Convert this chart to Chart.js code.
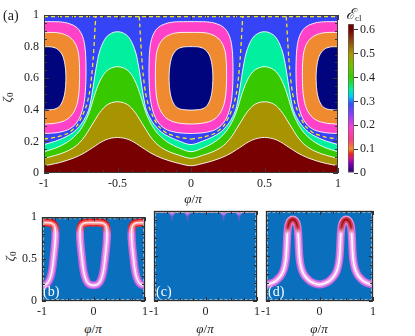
<!DOCTYPE html>
<html>
<head>
<meta charset="utf-8">
<script src="https://cdn.jsdelivr.net/npm/chart.js@4.4.1/dist/chart.umd.min.js"></script>
<style>
  body { margin: 0; background: #fff; }
  #fig { position: relative; width: 415px; height: 336px; overflow: hidden;
         font-family: 'Liberation Serif', 'DejaVu Serif', serif; color: #222; }
  canvas { position: absolute; }
  .lbl { position: absolute; white-space: nowrap; line-height: 1; font-size: 13px; }
  .lbl sub { font-size: 9px; vertical-align: -2px; }
  .rot { transform: rotate(-90deg); transform-origin: center; }
  .ttl { width: 40px; text-align: center; }
  .pan { color: #fff; font-size: 14px; }
</style>
</head>
<body>
<div id="fig">
  <canvas id="chartA" width="345" height="192" style="left:0;top:0;width:345px;height:192px"></canvas>
  <canvas id="chartBar" width="85" height="192" style="left:330px;top:0;width:85px;height:192px"></canvas>
  <canvas id="chartB" width="155" height="115" style="left:0;top:205px;width:155px;height:115px"></canvas>
  <canvas id="chartC" width="125" height="115" style="left:140px;top:205px;width:125px;height:115px"></canvas>
  <canvas id="chartD" width="140" height="115" style="left:250px;top:205px;width:140px;height:115px"></canvas>

  <div class="lbl" style="left:3px;top:9px;font-size:14px">(a)</div>
  <div class="lbl rot" style="left:3px;top:90px"><i>ζ</i><sub>0</sub></div>
  <div class="lbl ttl" style="left:173px;top:192px"><i>φ</i>/<i>π</i></div>
  <div class="lbl" style="left:346px;top:7px;font-size:15px"><i>ℰ</i><sub>cl</sub></div>

  <div class="lbl rot" style="left:6px;top:249px"><i>ζ</i><sub>0</sub></div>
  <div class="lbl ttl" style="left:73px;top:322px"><i>φ</i>/<i>π</i></div>
  <div class="lbl ttl" style="left:185px;top:322px"><i>φ</i>/<i>π</i></div>
  <div class="lbl ttl" style="left:299px;top:322px"><i>φ</i>/<i>π</i></div>
  <div class="lbl pan" style="left:43px;top:285px">(b)</div>
  <div class="lbl pan" style="left:156px;top:285px">(c)</div>
  <div class="lbl pan" style="left:268px;top:285px">(d)</div>
</div>
<script>
// ---------------- panel (a) ----------------
const phiTicksA = [-1, -0.5, 0, 0.5, 1];
const zetaTicksA = [0, 0.2, 0.4, 0.6, 0.8, 1];
const phiMinorA = [-1, -0.9, -0.8, -0.7, -0.6, -0.5, -0.4, -0.3, -0.2, -0.1, 0, 0.1, 0.2, 0.3, 0.4, 0.5, 0.6, 0.7, 0.8, 0.9, 1];
const zetaMinorA = [0, 0.05, 0.1, 0.15, 0.2, 0.25, 0.3, 0.35, 0.4, 0.45, 0.5, 0.55, 0.6, 0.65, 0.7, 0.75, 0.8, 0.85, 0.9, 0.95, 1];

// closed islands centred on phi = -1, 0, 1 (offset in phi, zeta)
const islandCentres = [-1, 0, 1];
const pinkDphi = [0, 0.10, 0.15, 0.20, 0.235, 0.26, 0.275, 0.283, 0.286, 0.284, 0.277, 0.262, 0.24, 0.205, 0.16, 0.10, 0.05, 0,
  -0.05, -0.10, -0.16, -0.205, -0.24, -0.262, -0.277, -0.284, -0.286, -0.283, -0.275, -0.26, -0.235, -0.20, -0.15, -0.10, 0];
const pinkZeta = [0.958, 0.957, 0.951, 0.935, 0.91, 0.87, 0.82, 0.75, 0.65, 0.56, 0.47, 0.40, 0.345, 0.30, 0.272, 0.257, 0.252, 0.25,
  0.252, 0.257, 0.272, 0.30, 0.345, 0.40, 0.47, 0.56, 0.65, 0.75, 0.82, 0.87, 0.91, 0.935, 0.951, 0.957, 0.958];
const orangeDphi = [0, 0.08, 0.125, 0.165, 0.198, 0.22, 0.234, 0.241, 0.242, 0.238, 0.226, 0.205, 0.172, 0.13, 0.07, 0,
  -0.07, -0.13, -0.172, -0.205, -0.226, -0.238, -0.242, -0.241, -0.234, -0.22, -0.198, -0.165, -0.125, -0.08, 0];
const orangeZeta = [0.89, 0.889, 0.882, 0.866, 0.84, 0.805, 0.76, 0.69, 0.59, 0.51, 0.44, 0.39, 0.35, 0.327, 0.314, 0.31,
  0.314, 0.327, 0.35, 0.39, 0.44, 0.51, 0.59, 0.69, 0.76, 0.805, 0.84, 0.866, 0.882, 0.889, 0.89];
const navyDphi = [0, 0.05, 0.085, 0.11, 0.128, 0.14, 0.147, 0.149, 0.146, 0.138, 0.124, 0.103, 0.075, 0.04, 0,
  -0.04, -0.075, -0.103, -0.124, -0.138, -0.146, -0.149, -0.147, -0.14, -0.128, -0.11, -0.085, -0.05, 0];
const navyZeta = [0.80, 0.798, 0.788, 0.768, 0.74, 0.70, 0.65, 0.60, 0.54, 0.49, 0.45, 0.42, 0.405, 0.40, 0.398,
  0.40, 0.405, 0.42, 0.45, 0.49, 0.54, 0.60, 0.65, 0.70, 0.74, 0.768, 0.788, 0.798, 0.80];

// bands peaking at phi = -0.5, 0.5 (distance from peak, zeta of upper edge)
const humpCentres = [-0.5, 0.5];
const humpDist = [0, 0.04, 0.08, 0.11, 0.13, 0.15, 0.17, 0.19, 0.22, 0.26, 0.3, 0.35, 0.42, 0.5];
const aquaZeta  = [0.894, 0.885, 0.855, 0.80, 0.74, 0.64, 0.52, 0.42, 0.35, 0.295, 0.258, 0.23, 0.202, 0.18];
const greenZeta = [0.673, 0.665, 0.64, 0.60, 0.56, 0.51, 0.45, 0.39, 0.325, 0.265, 0.225, 0.19, 0.158, 0.135];
const oliveZeta = [0.451, 0.445, 0.425, 0.395, 0.37, 0.34, 0.31, 0.28, 0.235, 0.19, 0.16, 0.135, 0.112, 0.093];
const redZeta   = [0.225, 0.221, 0.21, 0.196, 0.185, 0.172, 0.16, 0.148, 0.13, 0.11, 0.094, 0.078, 0.06, 0.046];

// yellow dashed contour
const dashDist = [0.148, 0.152, 0.158, 0.165, 0.175, 0.19, 0.21, 0.24, 0.28, 0.34, 0.42, 0.5];
const dashZeta = [0.99, 0.93, 0.83, 0.73, 0.62, 0.51, 0.43, 0.36, 0.295, 0.25, 0.226, 0.215];
const topDashPhi = [-1, 1];
const topDashZeta = [0.99, 0.99];

// colour bar
const levelTicks = [0, 0.1, 0.2, 0.3, 0.4, 0.5, 0.6];
const levelMax = 0.625;
const barLevels = [0, 0.04, 0.06, 0.08, 0.1, 0.14, 0.19, 0.25, 0.29, 0.32, 0.35, 0.40, 0.45, 0.5, 0.55, 0.6, 0.625];
const barColours = ['#1c0070', '#8000b8', '#d0108c', '#f02020', '#f08c24', '#ff3c80', '#ff40d0', '#8040ff', '#3050ff',
  '#00c8ff', '#00f0a0', '#30d000', '#70c000', '#a89800', '#904c10', '#780000', '#700000'];

// ---------------- panels (b) (c) (d) ----------------
const phiTicksS = [-1, 0, 1];
const zetaTicksB = [0, 0.5, 1];
const phiMinorS = [-1, -0.75, -0.5, -0.25, 0, 0.25, 0.5, 0.75, 1];
const zetaMinorS = [0, 0.1, 0.2, 0.3, 0.4, 0.5, 0.6, 0.7, 0.8, 0.9, 1];

// (b) closed loops centred on phi = -1, 0, 1
const loopCentresB = [-1, 0, 1];
const loopDphiB = [0, 0.12, 0.19, 0.235, 0.255, 0.262, 0.255, 0.24, 0.222, 0.203, 0.18, 0.15, 0.11, 0.06, 0,
  -0.06, -0.11, -0.15, -0.18, -0.203, -0.222, -0.24, -0.255, -0.262, -0.255, -0.235, -0.19, -0.12, 0];
const loopZetaB = [0.935, 0.935, 0.928, 0.905, 0.87, 0.80, 0.70, 0.60, 0.50, 0.40, 0.32, 0.26, 0.215, 0.193, 0.187,
  0.193, 0.215, 0.26, 0.32, 0.40, 0.50, 0.60, 0.70, 0.80, 0.87, 0.905, 0.928, 0.935, 0.935];

// (c) small dips under the top edge
const dripCentresC = [-0.65, -0.35, 0.35, 0.65];
const dripDistC = [0.1, 0.06, 0.03, 0.012, 0];
const dripZetaC = [0.985, 0.975, 0.955, 0.925, 0.885];
const edgeZetaC = 0.985;
const edgePhiC = [-1, 1];

// (d) arches peaking at phi = -0.5, 0.5
const archCentresD = [-0.5, 0.5];
const archDistD = [0, 0.04, 0.07, 0.09, 0.1, 0.108, 0.115, 0.125, 0.14, 0.165, 0.2, 0.25, 0.32, 0.4, 0.5];
const archZetaD = [0.905, 0.895, 0.865, 0.82, 0.76, 0.68, 0.58, 0.49, 0.42, 0.355, 0.305, 0.262, 0.222, 0.197, 0.182];

// ---------------- helpers ----------------
Chart.defaults.font.family = "'Liberation Serif', 'DejaVu Serif', serif";
Chart.defaults.font.size = 12;
Chart.defaults.color = '#222';

function islandPoints(c, dphi, zeta) {
  return dphi.map((d, i) => ({ x: c + d, y: zeta[i] }));
}

// mirror a peak profile around each centre to get one line across the axis
function peakLine(centres, dist, zeta) {
  const pts = [];
  const last = dist.length - 1;
  centres.forEach((c, k) => {
    for (let i = last; i >= 0; i--) {
      if (k > 0 && i === last) continue;
      pts.push({ x: c - dist[i], y: zeta[i] });
    }
    for (let i = 1; i <= last; i++) pts.push({ x: c + dist[i], y: zeta[i] });
  });
  return pts;
}

function dashLine(centres, dist, zeta) {
  const pts = [];
  centres.forEach(c => {
    for (let i = dist.length - 1; i >= 0; i--) pts.push({ x: c - dist[i], y: zeta[i] });
    pts.push({ x: c, y: null });
    for (let i = 0; i < dist.length; i++) pts.push({ x: c + dist[i], y: zeta[i] });
    pts.push({ x: c + 0.5, y: null });
  });
  return pts;
}

function dripLine(centres, dist, zeta, edge) {
  const pts = [{ x: -1, y: edge }];
  centres.forEach(c => {
    for (let i = 0; i < dist.length; i++) pts.push({ x: c - dist[i], y: zeta[i] });
    for (let i = dist.length - 2; i >= 0; i--) pts.push({ x: c + dist[i], y: zeta[i] });
  });
  pts.push({ x: 1, y: edge });
  return pts;
}

// vertical gradient given as [zeta, colour] pairs
function zetaGradient(chart, stops, fallback) {
  const a = chart.chartArea;
  const y = chart.scales.y;
  if (!a || !y) return fallback;
  const y1 = y.getPixelForValue(1), y0 = y.getPixelForValue(0);
  const g = chart.ctx.createLinearGradient(0, y1, 0, y0);
  stops.forEach(([z, c]) => g.addColorStop(Math.min(1, Math.max(0, 1 - z)), c));
  return g;
}

function fixedTicks(values) {
  return scale => { scale.ticks = values.map(v => ({ value: v })); };
}

function linearAxis(min, max, values, size, isX, show) {
  return {
    type: 'linear', min, max, display: show,
    afterBuildTicks: fixedTicks(values),
    afterFit: s => { if (isX) s.height = size; else s.width = size; },
    grid: { display: false, drawTicks: false },
    border: { display: false },
    ticks: { autoSkip: false, maxRotation: 0, padding: isX ? 4 : 5, callback: v => String(v) }
  };
}

// background, inward ticks and frame
const panelFrame = {
  id: 'panelFrame',
  beforeDatasetsDraw(chart, args, opts) {
    const { ctx, chartArea: a } = chart;
    ctx.save();
    ctx.fillStyle = opts.bg;
    ctx.fillRect(a.left, a.top, a.width, a.height);
    ctx.restore();
  },
  afterDatasetsDraw(chart, args, opts) {
    const { ctx, chartArea: a, scales: { x, y } } = chart;
    ctx.save();
    if (opts.edge) {
      ctx.strokeStyle = opts.edge;
      ctx.lineWidth = 1;
      ctx.setLineDash([3, 2]);
      ctx.strokeRect(a.left + 1.5, a.top + 1.5, a.width - 3, a.height - 3);
      ctx.setLineDash([]);
    }
    ctx.strokeStyle = opts.color;
    ctx.lineWidth = 1;
    ctx.beginPath();
    opts.xMinor.forEach(v => {
      const px = Math.round(x.getPixelForValue(v)) + 0.5;
      const len = opts.xMajor.includes(v) ? opts.major : opts.minor;
      ctx.moveTo(px, a.bottom); ctx.lineTo(px, a.bottom - len);
      ctx.moveTo(px, a.top); ctx.lineTo(px, a.top + len);
    });
    opts.yMinor.forEach(v => {
      const py = Math.round(y.getPixelForValue(v)) + 0.5;
      const len = opts.yMajor.includes(v) ? opts.major : opts.minor;
      ctx.moveTo(a.left, py); ctx.lineTo(a.left + len, py);
      ctx.moveTo(a.right, py); ctx.lineTo(a.right - len, py);
    });
    ctx.stroke();
    ctx.lineWidth = opts.frameWidth;
    ctx.strokeRect(a.left + 0.5, a.top + 0.5, a.width - 1, a.height - 1);
    ctx.restore();
  }
};

function baseOptions(padding, frame, scales) {
  return {
    responsive: false, animation: false, events: [],
    layout: { padding, autoPadding: false },
    plugins: { legend: { display: false }, tooltip: { enabled: false }, panelFrame: frame },
    elements: { point: { radius: 0 } },
    scales
  };
}

function region(points, colour, fill, order, smooth) {
  return {
    data: points, showLine: true, fill, order, clip: 0,
    backgroundColor: colour, borderColor: 'rgba(255,255,255,0.9)', borderWidth: 1, pointRadius: 0,
    tension: smooth ? 0 : 0.25, cubicInterpolationMode: smooth ? 'monotone' : 'default'
  };
}

function stroke(points, stops, width, order, monotone) {
  return {
    data: points, showLine: true, fill: false, order, clip: 0, pointRadius: 0,
    borderWidth: width, borderCapStyle: 'round', borderJoinStyle: 'round',
    borderColor: ctx => zetaGradient(ctx.chart, stops, stops[stops.length - 1][1]),
    tension: monotone ? 0 : 0.3, cubicInterpolationMode: monotone ? 'monotone' : 'default'
  };
}

// ---------------- chart (a) ----------------
const datasetsA = [];
islandCentres.forEach(c => {
  datasetsA.push(region(islandPoints(c, pinkDphi, pinkZeta), '#ff42c8', 'shape', 12, false));
  datasetsA.push(region(islandPoints(c, orangeDphi, orangeZeta), '#f08a30', 'shape', 11, false));
  datasetsA.push(region(islandPoints(c, navyDphi, navyZeta), '#00057e', 'shape', 10, false));
});
datasetsA.push(region(peakLine(humpCentres, humpDist, aquaZeta), '#00f0a0', 'start', 9, true));
datasetsA.push(region(peakLine(humpCentres, humpDist, greenZeta), '#38c800', 'start', 8, true));
datasetsA.push(region(peakLine(humpCentres, humpDist, oliveZeta), '#a89400', 'start', 7, true));
datasetsA.push(region(peakLine(humpCentres, humpDist, redZeta), '#780000', 'start', 6, true));
datasetsA.push({
  data: dashLine(humpCentres, dashDist, dashZeta), showLine: true, fill: false, order: 2, pointRadius: 0,
  borderColor: '#f4e81c', borderWidth: 1.3, borderDash: [4, 3], tension: 0.2, spanGaps: false
});
datasetsA.push({
  data: topDashPhi.map((p, i) => ({ x: p, y: topDashZeta[i] })), showLine: true, fill: false, order: 1,
  pointRadius: 0, borderColor: '#f4e81c', borderWidth: 1.3, borderDash: [4, 3]
});

new Chart(document.getElementById('chartA'), {
  type: 'scatter',
  data: { datasets: datasetsA },
  options: baseOptions({ top: 15, right: 2, left: 0, bottom: 0 },
    { bg: '#3444f6', color: '#3a3a3a', frameWidth: 1, major: 5, minor: 3,
      xMinor: phiMinorA, xMajor: phiTicksA, yMinor: zetaMinorA, yMajor: zetaTicksA },
    { x: linearAxis(-1, 1, phiTicksA, 19, true, true), y: linearAxis(0, 1, zetaTicksA, 44, false, true) }),
  plugins: [panelFrame]
});

// ---------------- colour bar ----------------
function barGradient(chart) {
  const y = chart.scales.y;
  if (!chart.chartArea || !y) return barColours[0];
  const g = chart.ctx.createLinearGradient(0, y.getPixelForValue(0), 0, y.getPixelForValue(levelMax));
  barLevels.forEach((v, i) => g.addColorStop(v / levelMax, barColours[i]));
  return g;
}

new Chart(document.getElementById('chartBar'), {
  type: 'bar',
  data: {
    labels: ['E'],
    datasets: [{ data: [levelMax], backgroundColor: ctx => barGradient(ctx.chart), barPercentage: 1, categoryPercentage: 1,
      borderWidth: 1, borderColor: 'rgba(60,60,60,0.8)', borderSkipped: false }]
  },
  options: {
    responsive: false, animation: false, events: [],
    layout: { padding: { top: 24, left: 18, right: 0, bottom: 19 }, autoPadding: false },
    plugins: { legend: { display: false }, tooltip: { enabled: false } },
    scales: {
      x: { display: false },
      y: {
        position: 'right', min: 0, max: levelMax,
        afterBuildTicks: fixedTicks(levelTicks),
        afterFit: s => { s.width = 61; },
        grid: { drawOnChartArea: false, drawTicks: true, tickLength: 4, color: '#333' },
        border: { display: false },
        ticks: { padding: 2, callback: v => String(v) }
      }
    }
  }
});

// ---------------- chart (b) ----------------
const bOuter = [[1, '#d80000'], [0.9, '#e82020'], [0.8, '#d468dc'], [0, '#b058e0']];
const bMid = [[1, '#f04848'], [0.9, '#f88080'], [0.8, '#f0a0ec'], [0, '#e890f0']];
const bInner = [[1, '#ffd0d0'], [0.85, '#fff0f8'], [0, '#fff4fc']];
const datasetsB = [];
loopCentresB.forEach(c => {
  const pts = islandPoints(c, loopDphiB, loopZetaB);
  datasetsB.push(stroke(pts, bOuter, 8, 3, false));
  datasetsB.push(stroke(pts, bMid, 5, 2, false));
  datasetsB.push(stroke(pts, bInner, 1.6, 1, false));
});

const smallFrame = { bg: '#0a70be', color: '#2e2e2e', frameWidth: 1.3, major: 4, minor: 3, edge: 'rgba(175,208,232,0.9)',
  xMinor: phiMinorS, xMajor: phiTicksS, yMinor: zetaMinorS, yMajor: zetaTicksB };

new Chart(document.getElementById('chartB'), {
  type: 'scatter',
  data: { datasets: datasetsB },
  options: baseOptions({ top: 6, right: 10, left: 0, bottom: 0 }, smallFrame,
    { x: linearAxis(-1, 1, phiTicksS, 19, true, true), y: linearAxis(0, 1, zetaTicksB, 42, false, true) }),
  plugins: [panelFrame]
});

// ---------------- chart (c) ----------------
const cFill = [[1, '#d8a8d8'], [0.975, '#c488e0'], [0.94, '#7058d8'], [0.885, '#3a58c8']];
new Chart(document.getElementById('chartC'), {
  type: 'scatter',
  data: {
    datasets: [
      {
        data: edgePhiC.map(p => ({ x: p, y: edgeZetaC })), showLine: true, fill: false, order: 1,
        borderColor: '#e88a9a', borderWidth: 1.5, pointRadius: 0
      },
      {
        data: dripLine(dripCentresC, dripDistC, dripZetaC, edgeZetaC), showLine: true, fill: 'end', clip: 0, order: 2,
        backgroundColor: ctx => zetaGradient(ctx.chart, cFill, '#c488e0'),
        borderColor: 'rgba(120,90,220,0.5)', borderWidth: 0.8, pointRadius: 0, cubicInterpolationMode: 'monotone'
      }
    ]
  },
  options: baseOptions({ top: 6, right: 8, left: 14, bottom: 0 }, smallFrame,
    { x: linearAxis(-1, 1, phiTicksS, 19, true, true), y: linearAxis(0, 1, zetaTicksB, 0, false, false) }),
  plugins: [panelFrame]
});

// ---------------- chart (d) ----------------
const dOuter = [[1, '#f0a8d8'], [0.8, '#d070e0'], [0, '#c060e0']];
const dMid = [[1, '#c02020'], [0.82, '#e04060'], [0.75, '#f0a8f0'], [0, '#f0a0f0']];
const dInner = [[1, '#700000'], [0.82, '#a02020'], [0.74, '#ffffff'], [0, '#ffffff']];
const archPts = peakLine(archCentresD, archDistD, archZetaD);
new Chart(document.getElementById('chartD'), {
  type: 'scatter',
  data: {
    datasets: [
      stroke(archPts, dOuter, 8, 3, true),
      stroke(archPts, dMid, 5, 2, true),
      stroke(archPts, dInner, 1.6, 1, true)
    ]
  },
  options: baseOptions({ top: 6, right: 17, left: 16, bottom: 0 }, smallFrame,
    { x: linearAxis(-1, 1, phiTicksS, 19, true, true), y: linearAxis(0, 1, zetaTicksB, 0, false, false) }),
  plugins: [panelFrame]
});
</script>
</body>
</html>
